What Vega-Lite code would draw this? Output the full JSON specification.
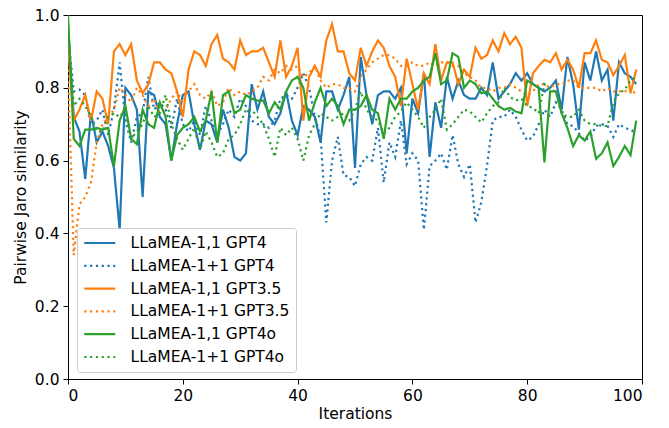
{
  "$schema": "https://vega.github.io/schema/vega-lite/v6.json",
  "width": 574,
  "height": 364,
  "autosize": {"type": "none"},
  "padding": {"left": 68, "top": 15, "right": 27, "bottom": 49},
  "background": "white",
  "config": {
    "font": "DejaVu Sans",
    "view": {"stroke": "black", "strokeWidth": 1},
    "axis": {
      "domain": false, "grid": false, "ticks": true, "tickColor": "black", "tickSize": 5, "tickWidth": 1,
      "labelFontSize": 15.5, "labelColor": "black", "labelPadding": 4,
      "titleFontSize": 15.5, "titleFontWeight": "normal", "titleColor": "black"
    },
    "legend": {
      "orient": "none", "legendX": 9, "legendY": 213, "title": null,
      "strokeColor": "#cccccc", "fillColor": "rgba(255,255,255,0.8)", "cornerRadius": 3, "padding": 6,
      "symbolType": "M-1,0H3", "symbolSize": 240, "symbolStrokeWidth": 2.2, "symbolFillColor": "transparent",
      "labelFontSize": 15.5, "labelColor": "black", "labelLimit": 300, "labelOffset": 29.5, "rowPadding": 4.8
    }
  },
  "data": {"values": [
    {"i":0,"a":0.97,"b":0.95,"c":0.92,"d":0.85,"e":1.0,"f":0.95},
    {"i":1,"a":0.72,"b":0.79,"c":0.71,"d":0.34,"e":0.66,"f":0.75},
    {"i":2,"a":0.68,"b":0.795,"c":0.74,"d":0.48,"e":0.64,"f":0.77},
    {"i":3,"a":0.55,"b":0.78,"c":0.78,"d":0.50,"e":0.685,"f":0.75},
    {"i":4,"a":0.73,"b":0.70,"c":0.71,"d":0.54,"e":0.685,"f":0.72},
    {"i":5,"a":0.65,"b":0.71,"c":0.79,"d":0.65,"e":0.69,"f":0.68},
    {"i":6,"a":0.68,"b":0.74,"c":0.77,"d":0.70,"e":0.685,"f":0.68},
    {"i":7,"a":0.64,"b":0.67,"c":0.70,"d":0.72,"e":0.69,"f":0.72},
    {"i":8,"a":0.58,"b":0.74,"c":0.90,"d":0.74,"e":0.585,"f":0.73},
    {"i":9,"a":0.41,"b":0.87,"c":0.92,"d":0.80,"e":0.71,"f":0.72},
    {"i":10,"a":0.80,"b":0.71,"c":0.89,"d":0.78,"e":0.75,"f":0.74},
    {"i":11,"a":0.78,"b":0.65,"c":0.92,"d":0.76,"e":0.66,"f":0.66},
    {"i":12,"a":0.74,"b":0.72,"c":0.82,"d":0.80,"e":0.645,"f":0.68},
    {"i":13,"a":0.50,"b":0.73,"c":0.785,"d":0.78,"e":0.74,"f":0.70},
    {"i":14,"a":0.79,"b":0.83,"c":0.81,"d":0.75,"e":0.70,"f":0.75},
    {"i":15,"a":0.78,"b":0.74,"c":0.87,"d":0.77,"e":0.69,"f":0.72},
    {"i":16,"a":0.72,"b":0.76,"c":0.87,"d":0.73,"e":0.76,"f":0.73},
    {"i":17,"a":0.70,"b":0.74,"c":0.85,"d":0.74,"e":0.72,"f":0.78},
    {"i":18,"a":0.60,"b":0.69,"c":0.84,"d":0.77,"e":0.60,"f":0.70},
    {"i":19,"a":0.70,"b":0.77,"c":0.79,"d":0.79,"e":0.67,"f":0.66},
    {"i":20,"a":0.78,"b":0.70,"c":0.72,"d":0.76,"e":0.69,"f":0.63},
    {"i":21,"a":0.79,"b":0.68,"c":0.85,"d":0.79,"e":0.70,"f":0.66},
    {"i":22,"a":0.70,"b":0.71,"c":0.90,"d":0.81,"e":0.72,"f":0.69},
    {"i":23,"a":0.63,"b":0.67,"c":0.89,"d":0.78,"e":0.68,"f":0.63},
    {"i":24,"a":0.71,"b":0.75,"c":0.86,"d":0.77,"e":0.71,"f":0.68},
    {"i":25,"a":0.70,"b":0.71,"c":0.92,"d":0.79,"e":0.79,"f":0.65},
    {"i":26,"a":0.65,"b":0.67,"c":0.945,"d":0.75,"e":0.65,"f":0.61},
    {"i":27,"a":0.74,"b":0.70,"c":0.88,"d":0.76,"e":0.78,"f":0.62},
    {"i":28,"a":0.69,"b":0.74,"c":0.87,"d":0.80,"e":0.79,"f":0.66},
    {"i":29,"a":0.61,"b":0.72,"c":0.85,"d":0.78,"e":0.73,"f":0.67},
    {"i":30,"a":0.60,"b":0.77,"c":0.93,"d":0.79,"e":0.74,"f":0.70},
    {"i":31,"a":0.62,"b":0.75,"c":0.89,"d":0.78,"e":0.78,"f":0.74},
    {"i":32,"a":0.81,"b":0.71,"c":0.90,"d":0.79,"e":0.77,"f":0.74},
    {"i":33,"a":0.74,"b":0.70,"c":0.90,"d":0.80,"e":0.765,"f":0.72},
    {"i":34,"a":0.79,"b":0.70,"c":0.91,"d":0.83,"e":0.765,"f":0.70},
    {"i":35,"a":0.72,"b":0.69,"c":0.87,"d":0.82,"e":0.73,"f":0.66},
    {"i":36,"a":0.70,"b":0.71,"c":0.83,"d":0.85,"e":0.76,"f":0.61},
    {"i":37,"a":0.73,"b":0.77,"c":0.93,"d":0.84,"e":0.74,"f":0.69},
    {"i":38,"a":0.79,"b":0.78,"c":0.83,"d":0.86,"e":0.79,"f":0.67},
    {"i":39,"a":0.71,"b":0.77,"c":0.86,"d":0.85,"e":0.82,"f":0.69},
    {"i":40,"a":0.67,"b":0.80,"c":0.91,"d":0.86,"e":0.83,"f":0.66},
    {"i":41,"a":0.75,"b":0.84,"c":0.71,"d":0.83,"e":0.80,"f":0.60},
    {"i":42,"a":0.74,"b":0.80,"c":0.83,"d":0.84,"e":0.71,"f":0.67},
    {"i":43,"a":0.72,"b":0.72,"c":0.86,"d":0.86,"e":0.76,"f":0.70},
    {"i":44,"a":0.65,"b":0.665,"c":0.83,"d":0.82,"e":0.80,"f":0.73},
    {"i":45,"a":0.79,"b":0.43,"c":0.93,"d":0.80,"e":0.75,"f":0.72},
    {"i":46,"a":0.79,"b":0.60,"c":0.975,"d":0.81,"e":0.77,"f":0.71},
    {"i":47,"a":0.74,"b":0.665,"c":0.90,"d":0.81,"e":0.75,"f":0.72},
    {"i":48,"a":0.78,"b":0.56,"c":0.90,"d":0.80,"e":0.70,"f":0.73},
    {"i":49,"a":0.83,"b":0.555,"c":0.84,"d":0.80,"e":0.74,"f":0.71},
    {"i":50,"a":0.58,"b":0.53,"c":0.82,"d":0.79,"e":0.74,"f":0.74},
    {"i":51,"a":0.885,"b":0.59,"c":0.91,"d":0.83,"e":0.75,"f":0.79},
    {"i":52,"a":0.78,"b":0.61,"c":0.86,"d":0.85,"e":0.78,"f":0.74},
    {"i":53,"a":0.70,"b":0.60,"c":0.90,"d":0.87,"e":0.74,"f":0.72},
    {"i":54,"a":0.78,"b":0.69,"c":0.93,"d":0.88,"e":0.73,"f":0.71},
    {"i":55,"a":0.79,"b":0.54,"c":0.91,"d":0.89,"e":0.66,"f":0.675},
    {"i":56,"a":0.79,"b":0.65,"c":0.86,"d":0.89,"e":0.77,"f":0.69},
    {"i":57,"a":0.77,"b":0.61,"c":0.83,"d":0.88,"e":0.74,"f":0.72},
    {"i":58,"a":0.80,"b":0.71,"c":0.75,"d":0.86,"e":0.77,"f":0.735},
    {"i":59,"a":0.62,"b":0.59,"c":0.88,"d":0.86,"e":0.77,"f":0.76},
    {"i":60,"a":0.77,"b":0.62,"c":0.81,"d":0.87,"e":0.79,"f":0.74},
    {"i":61,"a":0.73,"b":0.60,"c":0.74,"d":0.86,"e":0.80,"f":0.72},
    {"i":62,"a":0.84,"b":0.41,"c":0.84,"d":0.86,"e":0.82,"f":0.69},
    {"i":63,"a":0.61,"b":0.585,"c":0.81,"d":0.87,"e":0.83,"f":0.72},
    {"i":64,"a":0.76,"b":0.60,"c":0.92,"d":0.86,"e":0.895,"f":0.74},
    {"i":65,"a":0.69,"b":0.62,"c":0.82,"d":0.87,"e":0.81,"f":0.77},
    {"i":66,"a":0.83,"b":0.575,"c":0.87,"d":0.87,"e":0.82,"f":0.685},
    {"i":67,"a":0.77,"b":0.67,"c":0.87,"d":0.86,"e":0.895,"f":0.70},
    {"i":68,"a":0.82,"b":0.59,"c":0.81,"d":0.86,"e":0.885,"f":0.72},
    {"i":69,"a":0.78,"b":0.555,"c":0.85,"d":0.84,"e":0.80,"f":0.74},
    {"i":70,"a":0.77,"b":0.59,"c":0.83,"d":0.83,"e":0.82,"f":0.735},
    {"i":71,"a":0.77,"b":0.43,"c":0.91,"d":0.82,"e":0.81,"f":0.72},
    {"i":72,"a":0.80,"b":0.485,"c":0.88,"d":0.80,"e":0.785,"f":0.705},
    {"i":73,"a":0.78,"b":0.585,"c":0.89,"d":0.80,"e":0.79,"f":0.73},
    {"i":74,"a":0.87,"b":0.71,"c":0.93,"d":0.79,"e":0.77,"f":0.75},
    {"i":75,"a":0.77,"b":0.72,"c":0.90,"d":0.80,"e":0.75,"f":0.76},
    {"i":76,"a":0.79,"b":0.72,"c":0.95,"d":0.80,"e":0.74,"f":0.80},
    {"i":77,"a":0.81,"b":0.74,"c":0.92,"d":0.81,"e":0.745,"f":0.775},
    {"i":78,"a":0.84,"b":0.72,"c":0.94,"d":0.80,"e":0.735,"f":0.765},
    {"i":79,"a":0.82,"b":0.685,"c":0.91,"d":0.79,"e":0.73,"f":0.77},
    {"i":80,"a":0.84,"b":0.655,"c":0.75,"d":0.78,"e":0.82,"f":0.75},
    {"i":81,"a":0.81,"b":0.665,"c":0.84,"d":0.79,"e":0.81,"f":0.745},
    {"i":82,"a":0.80,"b":0.70,"c":0.86,"d":0.81,"e":0.80,"f":0.73},
    {"i":83,"a":0.79,"b":0.74,"c":0.877,"d":0.81,"e":0.595,"f":0.81},
    {"i":84,"a":0.80,"b":0.72,"c":0.87,"d":0.80,"e":0.79,"f":0.795},
    {"i":85,"a":0.82,"b":0.76,"c":0.895,"d":0.81,"e":0.79,"f":0.79},
    {"i":86,"a":0.74,"b":0.74,"c":0.85,"d":0.81,"e":0.73,"f":0.73},
    {"i":87,"a":0.885,"b":0.70,"c":0.877,"d":0.82,"e":0.69,"f":0.72},
    {"i":88,"a":0.81,"b":0.695,"c":0.85,"d":0.82,"e":0.64,"f":0.72},
    {"i":89,"a":0.685,"b":0.675,"c":0.80,"d":0.80,"e":0.67,"f":0.74},
    {"i":90,"a":0.87,"b":0.655,"c":0.895,"d":0.80,"e":0.655,"f":0.71},
    {"i":91,"a":0.82,"b":0.665,"c":0.895,"d":0.80,"e":0.68,"f":0.70},
    {"i":92,"a":0.90,"b":0.695,"c":0.93,"d":0.80,"e":0.605,"f":0.70},
    {"i":93,"a":0.82,"b":0.70,"c":0.877,"d":0.79,"e":0.62,"f":0.695},
    {"i":94,"a":0.85,"b":0.695,"c":0.87,"d":0.80,"e":0.65,"f":0.695},
    {"i":95,"a":0.71,"b":0.665,"c":0.835,"d":0.79,"e":0.585,"f":0.76},
    {"i":96,"a":0.87,"b":0.70,"c":0.86,"d":0.79,"e":0.61,"f":0.785},
    {"i":97,"a":0.84,"b":0.69,"c":0.89,"d":0.79,"e":0.64,"f":0.795},
    {"i":98,"a":0.83,"b":0.685,"c":0.785,"d":0.80,"e":0.615,"f":0.82},
    {"i":99,"a":0.81,"b":0.675,"c":0.85,"d":0.78,"e":0.71,"f":0.83}
  ]},
  "transform": [{"fold": ["a", "b", "c", "d", "e", "f"], "as": ["s", "v"]}],
  "mark": {"type": "line", "strokeWidth": 2.2, "clip": true},
  "encoding": {
    "x": {"field": "i", "type": "quantitative", "scale": {"domain": [0, 100], "nice": false},
      "axis": {"title": "Iterations", "values": [0, 20, 40, 60, 80, 100], "titlePadding": 3}},
    "y": {"field": "v", "type": "quantitative", "scale": {"domain": [0, 1], "nice": false},
      "axis": {"title": "Pairwise Jaro similarity", "values": [0, 0.2, 0.4, 0.6, 0.8, 1], "format": ".1f", "titlePadding": 6}},
    "color": {"field": "s", "type": "nominal",
      "scale": {"domain": ["a", "b", "c", "d", "e", "f"], "range": ["#1f77b4", "#1f77b4", "#ff7f0e", "#ff7f0e", "#2ca02c", "#2ca02c"]},
      "legend": {"labelExpr": "datum.label == 'a' ? 'LLaMEA-1,1 GPT4' : datum.label == 'b' ? 'LLaMEA-1+1 GPT4' : datum.label == 'c' ? 'LLaMEA-1,1 GPT3.5' : datum.label == 'd' ? 'LLaMEA-1+1 GPT3.5' : datum.label == 'e' ? 'LLaMEA-1,1 GPT4o' : 'LLaMEA-1+1 GPT4o'"}},
    "strokeDash": {"field": "s", "type": "nominal",
      "scale": {"domain": ["a", "b", "c", "d", "e", "f"], "range": [[1, 0], [2.2, 3.6], [1, 0], [2.2, 3.6], [1, 0], [2.2, 3.6]]},
      "legend": {"labelExpr": "datum.label == 'a' ? 'LLaMEA-1,1 GPT4' : datum.label == 'b' ? 'LLaMEA-1+1 GPT4' : datum.label == 'c' ? 'LLaMEA-1,1 GPT3.5' : datum.label == 'd' ? 'LLaMEA-1+1 GPT3.5' : datum.label == 'e' ? 'LLaMEA-1,1 GPT4o' : 'LLaMEA-1+1 GPT4o'"}}
  }
}
